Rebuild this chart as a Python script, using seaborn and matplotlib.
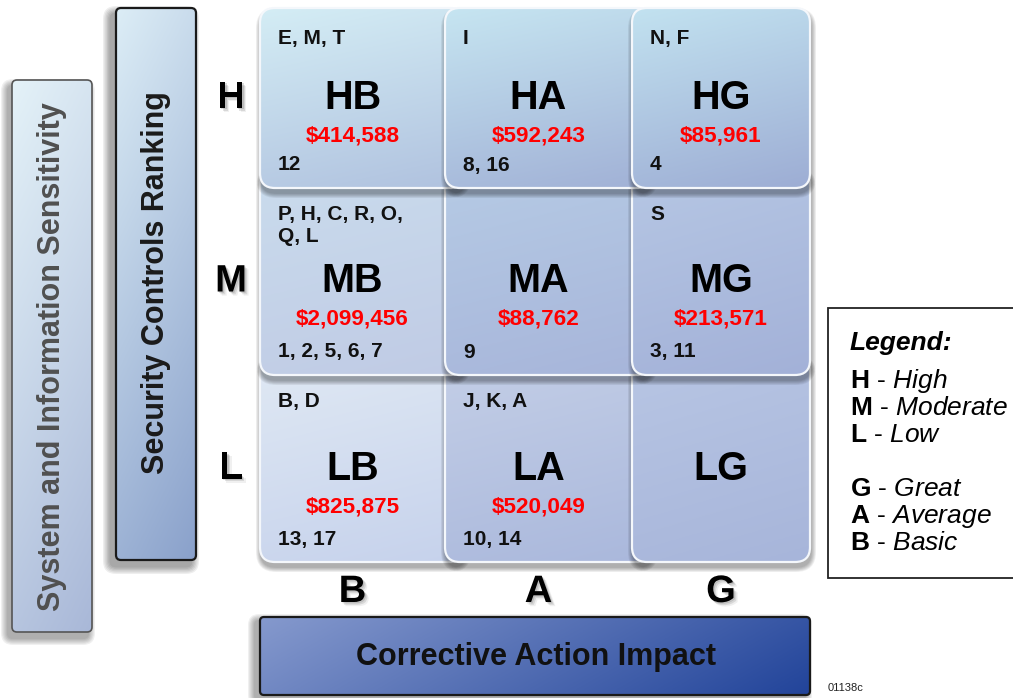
import numpy as np
import matplotlib
matplotlib.use("Agg")
import matplotlib.pyplot as plt
import matplotlib.patheffects as pe
from matplotlib.patches import FancyBboxPatch
import seaborn as sns

# Daten der Matrix
row_levels = ["H", "M", "L"]
col_levels = ["B", "A", "G"]
cell_costs = [[414588, 592243, 85961],
              [2099456, 88762, 213571],
              [825875, 520049, None]]
cell_letters = [["E, M, T", "I", "N, F"],
                ["P, H, C, R, O,\nQ, L", "", "S"],
                ["B, D", "J, K, A", ""]]
cell_numbers = [["12", "8, 16", "4"],
                ["1, 2, 5, 6, 7", "9", "3, 11"],
                ["13, 17", "10, 14", ""]]
legend_keys = ["H", "M", "L", "", "G", "A", "B"]
legend_words = ["High", "Moderate", "Low", "", "Great", "Average", "Basic"]
y_titles = ["System and Information Sensitivity", "Security Controls Ranking"]
x_title = "Corrective Action Impact"

# Stil
sns.set_theme(style="white")
plt.rcParams["font.family"] = ["Liberation Sans", "DejaVu Sans"]
plt.rcParams["mathtext.fontset"] = "custom"
plt.rcParams["mathtext.rm"] = "Liberation Sans"
plt.rcParams["mathtext.bf"] = "Liberation Sans:bold"
plt.rcParams["mathtext.it"] = "Liberation Sans:italic"

W, H = 1013, 698
fig = plt.figure(figsize=(W / 100, H / 100), dpi=100)
ax = fig.add_axes([0, 0, 1, 1])
ax.set_axis_off()


def grad_box(x0, y0, x1, y1, c0, c1, mix=(1.0, 0.0), radius=14, edge="white",
             lw=1.5, z=1, shadow=0.3, off=(3, 5), spread=8):
    style = f"round,pad=0,rounding_size={radius}"
    if shadow:
        n = 6
        for k in range(n):
            g = spread * (k + 1) / n
            sp = FancyBboxPatch((x0 + off[0] - g / 2, y0 + off[1] - g / 2),
                                x1 - x0 + g, y1 - y0 + g,
                                boxstyle=f"round,pad=0,rounding_size={radius + g / 2}",
                                fc="black", ec="none", alpha=shadow / n, zorder=z - 0.5)
            ax.add_patch(sp)
    patch = FancyBboxPatch((x0, y0), x1 - x0, y1 - y0, boxstyle=style,
                           fc="none", ec=edge, lw=lw, zorder=z + 0.1)
    ax.add_patch(patch)
    ty, tx = np.mgrid[0:1:120j, 0:1:120j]
    t = (mix[0] * ty + mix[1] * tx) / (mix[0] + mix[1])
    cmap = sns.blend_palette([c0, c1], as_cmap=True)
    im = ax.imshow(t, cmap=cmap, vmin=0, vmax=1, extent=(x0, x1, y1, y0),
                   aspect="auto", zorder=z, interpolation="bilinear")
    im.set_clip_path(patch)


# linke Titelboxen
grad_box(12, 80, 92, 632, "#e4f2f8", "#a9b8d8", mix=(1.0, 0.3), radius=5,
         edge="#555555", lw=1.2, z=1, shadow=0.35, off=(-4, 6), spread=14)
ax.text(52, 357, y_titles[0], rotation=90, ha="center", va="center",
        fontsize=22, fontweight="bold", color="#505050", zorder=5)
grad_box(116, 8, 196, 560, "#dcedf6", "#8aa1cb", mix=(1.0, 0.3), radius=5,
         edge="#1a1a1a", lw=1.6, z=2, shadow=0.4, off=(-5, 6), spread=16)
ax.text(156, 283, y_titles[1], rotation=90, ha="center", va="center",
        fontsize=22, fontweight="bold", color="#1a1a1a", zorder=5)

# untere Titelbox
grad_box(260, 617, 810, 695, "#8599cd", "#22449a", mix=(0.25, 1.0), radius=4,
         edge="#1a1a1a", lw=1.6, z=2, shadow=0.35, off=(-5, 4), spread=14)
ax.text(536, 657, x_title, ha="center", va="center", fontsize=22,
        fontweight="bold", color="#111111", zorder=5)

# Matrixzellen
col_edges = [260, 445, 632, 810]
row_edges = [8, 188, 375, 562]
top_cols = [["#d4edf5", "#c6e5f1", "#c2e2f0"],
            ["#cadced", "#b6cbe5", "#b6c7e4"],
            ["#e0e9f4", "#c4cfe7", "#b8c6e4"]]
bot_cols = [["#b0c2df", "#a1b1d6", "#9dadd4"],
            ["#c0cbe5", "#a7b5da", "#a3b1d8"],
            ["#c6d2ec", "#aab8dc", "#a7b5da"]]

shadow_fx = [pe.SimplePatchShadow(offset=(1, -1), shadow_rgbFace="#444444", alpha=0.18),
             pe.SimplePatchShadow(offset=(2, -2), shadow_rgbFace="#444444", alpha=0.14),
             pe.SimplePatchShadow(offset=(3, -3), shadow_rgbFace="#444444", alpha=0.08),
             pe.Normal()]

z = 10
for i in [2, 1, 0]:
    for j in range(3):
        x0 = col_edges[j]
        x1 = col_edges[j + 1] + (20 if j < 2 else 0)
        y0 = row_edges[i] - (20 if i > 0 else 0)
        y1 = row_edges[i + 1]
        grad_box(x0, y0, x1, y1, top_cols[i][j], bot_cols[i][j], mix=(1.0, 0.25),
                 radius=15, edge="#f4f7fb", lw=1.6, z=z, shadow=0.35,
                 off=(1, 5), spread=10)
        z += 1

for i, r in enumerate(row_levels):
    top, bot = row_edges[i], row_edges[i + 1]
    yc = (top + bot) / 2
    ax.text(231, yc, r, ha="center", va="center", fontsize=27.5,
            fontweight="bold", color="black", zorder=50, path_effects=shadow_fx)
    for j, c in enumerate(col_levels):
        left = col_edges[j]
        xc = (col_edges[j] + col_edges[j + 1]) / 2
        ax.text(xc, yc, r + c, ha="center", va="center", fontsize=28.5,
                fontweight="bold", color="black", zorder=50)
        if cell_letters[i][j]:
            ax.text(left + 18, top + (21 if i == 0 else 17), cell_letters[i][j],
                    ha="left", va="top", fontsize=15, fontweight="bold",
                    color="#111111", linespacing=1.2, zorder=50)
        if cell_costs[i][j] is not None:
            ax.text(xc, yc + 38, f"${cell_costs[i][j]:,}", ha="center", va="center",
                    fontsize=16.2, fontweight="bold", color="#ff0000", zorder=50)
        if cell_numbers[i][j]:
            ax.text(left + 18, bot - 23, cell_numbers[i][j], ha="left", va="center",
                    fontsize=15, fontweight="bold", color="#111111", zorder=50)

for j, c in enumerate(col_levels):
    xc = (col_edges[j] + col_edges[j + 1]) / 2
    ax.text(xc, 592, c, ha="center", va="center", fontsize=27.5,
            fontweight="bold", color="black", zorder=50, path_effects=shadow_fx)

# Legende
leg = FancyBboxPatch((828, 308), 200, 270, boxstyle="square,pad=0",
                     fc="white", ec="#222222", lw=1.3, zorder=5)
ax.add_patch(leg)
ax.text(850, 343, "Legend:", ha="left", va="center", fontsize=19,
        fontweight="bold", fontstyle="italic", color="black", zorder=6)
for k, (key, word) in enumerate(zip(legend_keys, legend_words)):
    if not key:
        continue
    ax.text(850, 381 + k * 27, rf"$\mathbf{{{key}}}$ - $\mathit{{{word}}}$",
            ha="left", va="center", fontsize=19, color="black", zorder=6)

ax.text(828, 688, "01138c", ha="left", va="center", fontsize=8, color="#222222")

ax.set_xlim(0, W)
ax.set_ylim(H, 0)
fig.savefig("out.png", dpi=100)
